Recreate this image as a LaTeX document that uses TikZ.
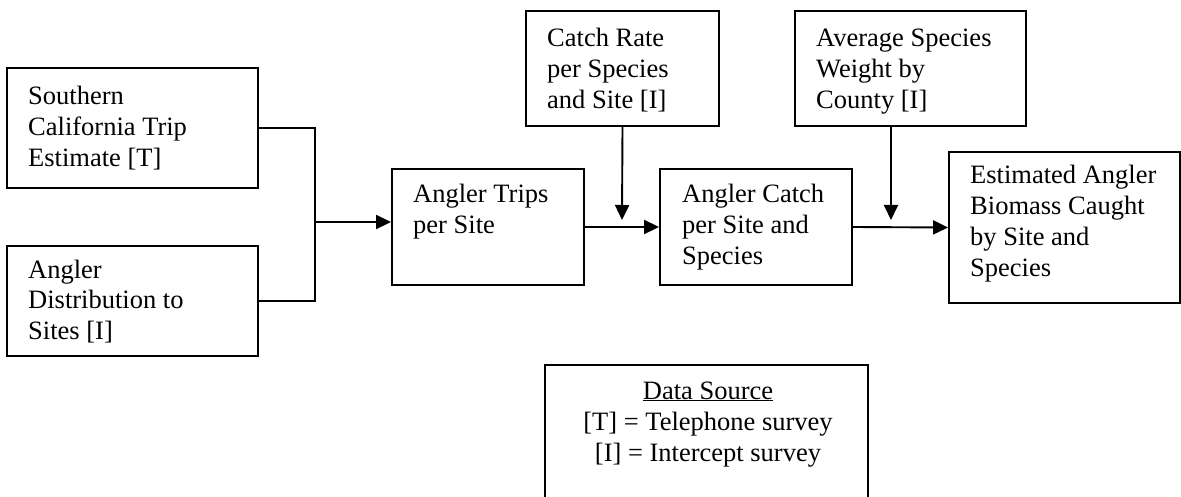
\documentclass[tikz,border=0pt]{standalone}
\usepackage{fontspec}
\setmainfont{Liberation Serif}
\usetikzlibrary{arrows.meta}
\newcommand\mlines[1]{\vtop{\baselineskip=31pt\lineskip=0pt\lineskiplimit=-100pt #1}}
\newcommand\tline[1]{\hbox{#1}}
\newcommand\ctrline[1]{\hbox to 0pt{\hss #1\hss}}
\tikzset{
  boxnode/.style={draw, line width=1.9pt, rectangle, inner sep=0pt},
  txt/.style={inner sep=0pt, anchor=base west, font=\fontsize{26.5}{31}\selectfont},
  conn/.style={line width=1.9pt},
  arr/.style={line width=1.9pt, -{Triangle[length=15pt,width=14pt]}},
}
\begin{document}
\begin{tikzpicture}[x=1pt,y=-1pt]
\clip (0,0) rectangle (1181,497);
\fill[white] (0,0) rectangle (1181,497);
% boxes
\node[boxnode, minimum width=251pt, minimum height=120pt] (b1) at (132.5,128) {};
\node[boxnode, minimum width=251pt, minimum height=110pt] (b2) at (132.5,301) {};
\node[boxnode, minimum width=192pt, minimum height=116pt] (b3) at (488,227) {};
\node[boxnode, minimum width=193pt, minimum height=115pt] (b4) at (622.5,68.5) {};
\node[boxnode, minimum width=192pt, minimum height=116pt] (b5) at (756,227) {};
\node[boxnode, minimum width=231pt, minimum height=115pt] (b6) at (910.5,68.5) {};
\node[boxnode, minimum width=231pt, minimum height=151pt] (b7) at (1064.5,227.5) {};
\node[boxnode, minimum width=323pt, minimum height=160pt] (b8) at (706.5,445) {};
% texts
\node[txt] (t1) at (28,105) {\mlines{\tline{Southern}\tline{California Trip}\tline{Estimate [T]}}};
\node[txt] (t2) at (28,278) {\mlines{\tline{Angler}\tline{Distribution to}\tline{Sites [I]}}};
\node[txt] (t3) at (413,203) {\mlines{\tline{Angler Trips}\tline{per Site}}};
\node[txt] (t4) at (547,47) {\mlines{\tline{Catch Rate}\tline{per Species}\tline{and Site [I]}}};
\node[txt] (t5) at (682,203) {\mlines{\tline{Angler Catch}\tline{per Site and}\tline{Species}}};
\node[txt] (t6) at (816,47) {\mlines{\tline{Average Species}\tline{Weight by}\tline{County [I]}}};
\node[txt] (t7) at (970,184) {\mlines{\tline{Estimated Angler}\tline{Biomass Caught}\tline{by Site and}\tline{Species}}};
\node[txt, anchor=base] (t8) at (708,399) {\mlines{\ctrline{\underline{Data Source}}\ctrline{[T] = Telephone survey}\ctrline{[I] = Intercept survey}}};
% connectors
\coordinate (j1) at (315,222);
\coordinate (m1) at (622,220);
\coordinate (m2) at (891,220);
\draw[conn] (b1.east) -| (j1);
\draw[conn] (b2.east) -| (j1);
\draw[arr] (j1) -- (j1 -| b3.west);
\draw[arr] (b3.east) -- (b5.west);
\draw[arr] (b4.south) -- (m1);
\draw[arr] (b5.east) -- (b7.west);
\draw[arr] (b6.south -| m2) -- (m2);
\end{tikzpicture}
\end{document}
